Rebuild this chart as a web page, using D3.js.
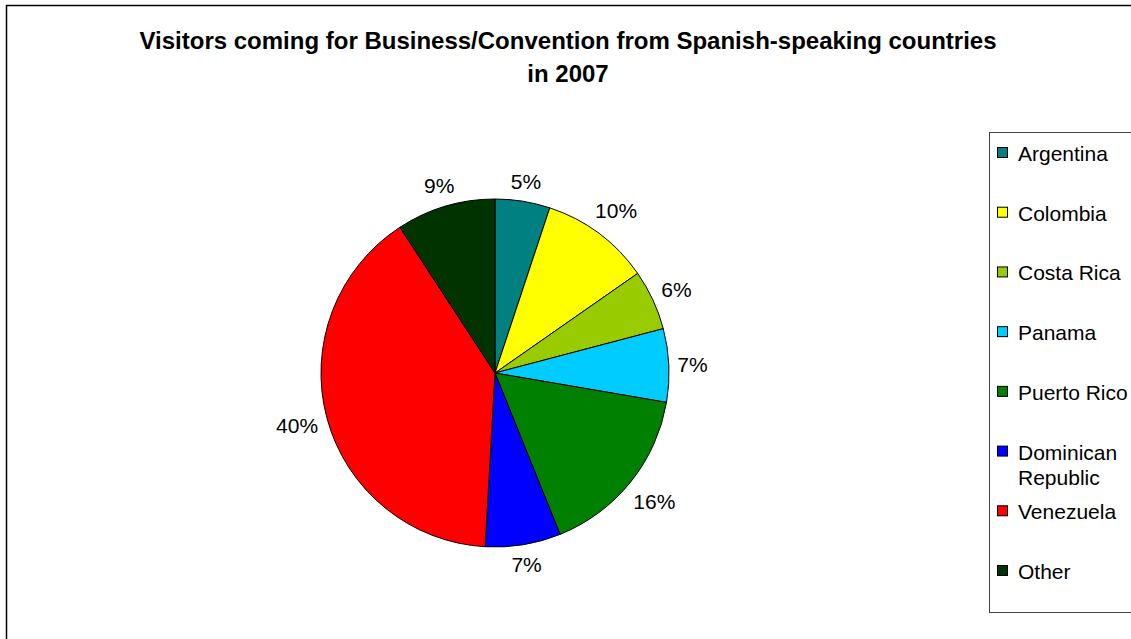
<!DOCTYPE html>
<html>
<head>
<meta charset="utf-8">
<script src="https://cdn.jsdelivr.net/npm/d3@7"></script>
<style>
  html, body { margin: 0; padding: 0; background: #fff; }
  svg { display: block; font-family: Arial, "Liberation Sans", sans-serif; }
</style>
</head>
<body>
<div id="chart"></div>
<script>
// data
const countries = ["Argentina", "Colombia", "Costa Rica", "Panama", "Puerto Rico", "Dominican Republic", "Venezuela", "Other"];
const shares = [5.1, 10.2, 5.6, 6.8, 16.2, 7.0, 39.9, 9.2];
const colors = ["#008080", "#ffff00", "#99cc00", "#00ccff", "#008000", "#0000ff", "#ff0000", "#003300"];
const titleLines = ["Visitors coming for Business/Convention from Spanish-speaking countries", "in 2007"];

const width = 1131, height = 639;
const data = countries.map((c, i) => ({ name: c, value: shares[i], color: colors[i] }));

const svg = d3.select("#chart").append("svg")
    .attr("width", width)
    .attr("height", height);

// outer chart frame
svg.append("rect")
    .attr("x", 6.5).attr("y", 5.5)
    .attr("width", width + 10).attr("height", height + 10)
    .attr("fill", "#fff")
    .attr("stroke", "#000")
    .attr("stroke-width", 1.5);

// title
svg.append("text")
    .attr("text-anchor", "middle")
    .attr("font-weight", "bold")
    .attr("font-size", 24)
    .selectAll("tspan")
    .data(titleLines)
    .join("tspan")
    .attr("x", 568)
    .attr("y", (d, i) => 49 + i * 33)
    .text(d => d);

// pie
const cx = 495, cy = 373, radius = 174;
const pie = d3.pie().sort(null).value(d => d.value);
const arc = d3.arc().innerRadius(0).outerRadius(radius);
const arcs = pie(data);

const g = svg.append("g").attr("transform", `translate(${cx},${cy})`);

g.selectAll("path")
    .data(arcs)
    .join("path")
    .attr("d", arc)
    .attr("fill", d => d.data.color)
    .attr("stroke", "#000")
    .attr("stroke-width", 1);

// percentage labels outside the pie
const total = d3.sum(shares);
const labelR = 182;
const labels = g.selectAll("text.pct")
    .data(arcs)
    .join("text")
    .attr("class", "pct")
    .attr("font-size", 21)
    .attr("fill", "#000")
    .attr("text-anchor", "middle")
    .attr("dominant-baseline", "central")
    .text(d => Math.round(d.data.value / total * 100) + "%");

labels.each(function(d) {
    const a = (d.startAngle + d.endAngle) / 2;
    const dx = Math.sin(a), dy = -Math.cos(a);
    const w = this.getComputedTextLength();
    const push = Math.abs(dx) * w / 2 + Math.abs(dy) * 10;
    d3.select(this)
        .attr("x", dx * (labelR + push))
        .attr("y", dy * (labelR + push));
});

// legend
const legend = svg.append("g");
legend.append("rect")
    .attr("x", 989.5).attr("y", 132.5)
    .attr("width", 200).attr("height", 480)
    .attr("fill", "#fff")
    .attr("stroke", "#444")
    .attr("stroke-width", 1);

const legendY = d3.scalePoint()
    .domain(countries)
    .range([153, 571]);

const items = legend.selectAll("g.item")
    .data(data)
    .join("g")
    .attr("class", "item")
    .attr("transform", d => `translate(997,${legendY(d.name)})`);

items.append("rect")
    .attr("x", 0.5).attr("y", -5.5)
    .attr("width", 10).attr("height", 10)
    .attr("fill", d => d.color)
    .attr("stroke", "#000")
    .attr("stroke-width", 1);

items.append("text")
    .attr("font-size", 21)
    .attr("dominant-baseline", "central")
    .selectAll("tspan")
    .data(d => d.name === "Dominican Republic" ? ["Dominican", "Republic"] : [d.name])
    .join("tspan")
    .attr("x", 21)
    .attr("dy", (d, i) => i === 0 ? 0 : 25)
    .text(d => d);
</script>
</body>
</html>
